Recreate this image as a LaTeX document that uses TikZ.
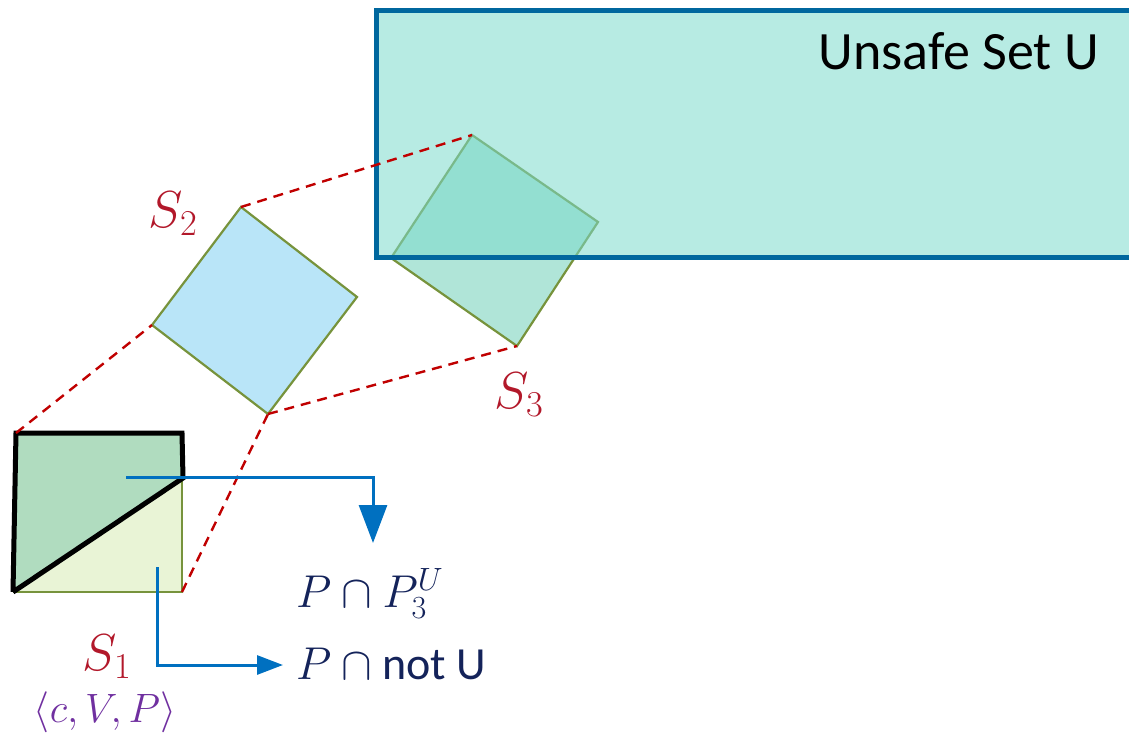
\RequirePackage{fix-cm}
\documentclass[tikz,border=0pt]{standalone}
\usepackage{fontspec}
\setmainfont{Carlito}
\usetikzlibrary{arrows.meta}
\definecolor{ubord}{RGB}{0,103,158}
\definecolor{ufill}{RGB}{123,218,204}
\definecolor{dred}{RGB}{192,0,0}
\definecolor{olive}{RGB}{119,147,60}
\definecolor{sblue}{RGB}{185,229,248}
\definecolor{sthree}{RGB}{176,229,216}
\definecolor{sonel}{RGB}{233,244,214}
\definecolor{soned}{RGB}{176,220,191}
\definecolor{arrblue}{RGB}{0,112,192}
\definecolor{lblred}{RGB}{178,24,42}
\definecolor{lblpurple}{RGB}{112,48,160}
\definecolor{navy}{RGB}{20,35,90}
\tikzset{
  setbox/.style={draw=olive, line width=2.2pt, line join=miter},
  trace/.style={draw=dred, line width=2.4pt, dash pattern=on 10pt off 7pt},
  flow/.style={draw=arrblue, line width=3pt},
  slabel/.style={text=lblred, font=\fontsize{52}{56}\selectfont, inner sep=0pt},
  mlabel/.style={text=navy, font=\fontsize{46}{50}\selectfont, inner sep=0pt, anchor=base west},
}
\begin{document}
\begin{tikzpicture}[x=1pt,y=-1pt]
\useasboundingbox (0,0) rectangle (1129,746);
% S3 (under the unsafe set)
\coordinate (s3t) at (472,135);
\coordinate (s3r) at (598,222);
\coordinate (s3b) at (517,346);
\coordinate (s3l) at (391,258);
\path[setbox, fill=sthree] (s3t) -- (s3r) -- (s3b) -- (s3l) -- cycle;
% unsafe set
\begin{scope}
\clip (0,0) rectangle (1129,746);
\path[fill=ufill, fill opacity=0.544] (376,11) rectangle (1150,257);
\draw[ubord, line width=5pt] (1150,11) -- (376,11) -- (376,257) -- (1150,257);
\end{scope}
\node[anchor=base east, font=\fontsize{54}{60}\selectfont, inner sep=0pt] (unsafe) at (1099,70) {Unsafe Set U};
% S2
\coordinate (s2t) at (241,207);
\coordinate (s2r) at (357,297);
\coordinate (s2b) at (268,414);
\coordinate (s2l) at (152,325);
\path[setbox, fill=sblue] (s2t) -- (s2r) -- (s2b) -- (s2l) -- cycle;
% S1
\coordinate (s1bl) at (13,592);
\coordinate (s1br) at (182,592);
\coordinate (s1tr) at (182,433);
\coordinate (s1tl) at (16,433);
\coordinate (s1m) at (183,478);
\path[fill=sonel] (s1bl) -- (s1br) -- (s1tr) -- (s1tl) -- cycle;
\draw[olive, line width=2.2pt] (s1bl) -- (s1br) -- (s1tr);
\path[fill=soned] (s1bl) -- (s1tl) -- (s1tr) -- (s1m) -- cycle;
\draw[black, line width=5pt, line join=miter] (s1bl) -- (s1tl) -- (s1tr) -- (s1m) -- (s1bl);
% dashed traces
\draw[trace] (s1tl) -- (s2l);
\draw[trace] (s1br) -- (s2b);
\draw[trace] (s2t) -- (s3t);
\draw[trace] (s2b) -- (s3b);
% labels
\node[slabel] (S2) at (173,214) {$S_2$};
\node[slabel] (S3) at (519,395) {$S_3$};
\node[slabel] (S1) at (107,657) {$S_1$};
\node[text=lblpurple, font=\fontsize{41}{44}\selectfont, inner sep=0pt] (cvp) at (105,712) {$\langle c, V, P\rangle$};
\node[mlabel] (pu) at (296,607) {$P \cap P_3^U$};
\node[mlabel] (pn) at (296,679) {$P \cap{}$not U};
% arrows
\coordinate (a1s) at (126,477);
\coordinate (a1e) at (373,543);
\coordinate (a2s) at (157,567);
\coordinate (a2e) at (283,665);
\draw[flow, -{Triangle[length=38pt,width=28pt]}] (a1s) -| (a1e);
\draw[flow, -{Triangle[length=26pt,width=19pt]}] (a2s) |- (a2e);
\end{tikzpicture}
\end{document}
